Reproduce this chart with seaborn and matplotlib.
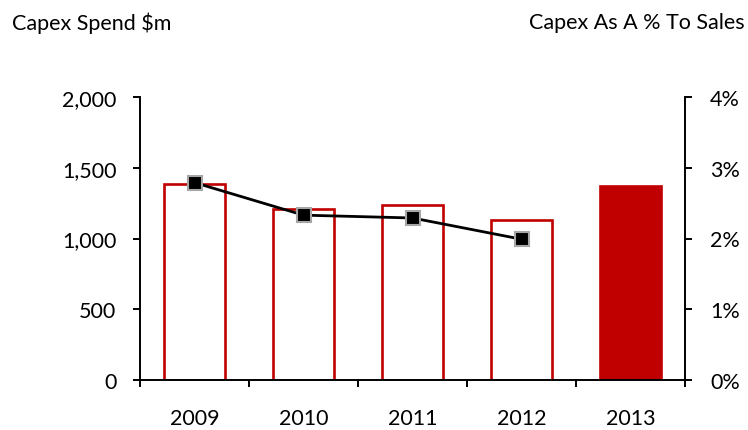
import matplotlib
matplotlib.use("Agg")
import matplotlib.pyplot as plt
import seaborn as sns
import pandas as pd
from matplotlib.ticker import FuncFormatter, FixedLocator

# Capex data
years = ["2009", "2010", "2011", "2012", "2013"]
capex_spend = [1385, 1205, 1238, 1130, 1372]
pct_years = ["2009", "2010", "2011", "2012"]
capex_pct_sales = [2.79, 2.33, 2.29, 1.99]

RED = "#C00000"

sns.set_theme(style="white")
plt.rcParams["font.family"] = ["Lato", "DejaVu Sans"]
FS = 15.5

fig = plt.figure(figsize=(7.48, 4.31), dpi=100)
ax = fig.add_axes([140 / 748, 1 - 381 / 431, 545 / 748, 283 / 431])

bars_df = pd.DataFrame({"year": years, "spend": capex_spend})
fill = {y: "white" for y in years}
fill["2013"] = RED
sns.barplot(data=bars_df, x="year", y="spend", hue="year", palette=fill,
            legend=False, width=0.56, ax=ax, edgecolor=RED, linewidth=1.9,
            saturation=1)

ax.set_ylim(0, 2000)
ax.set_xlim(-0.5, 4.5)
ax.set_yticks([0, 500, 1000, 1500, 2000])
ax.yaxis.set_major_formatter(FuncFormatter(lambda v, p: f"{v:,.0f}"))
ax.set_xlabel("")
ax.set_ylabel("")

ax2 = ax.twinx()
line_df = pd.DataFrame({"year": pct_years, "pct": capex_pct_sales})
sns.pointplot(data=line_df, x="year", y="pct", ax=ax2, color="black",
              markers="s", markersize=9.5, markeredgecolor="#A6A6A6",
              markeredgewidth=1.5, linewidth=2, errorbar=None)
ax2.set_ylim(0, 4)
ax2.set_xlim(-0.5, 4.5)
ax2.set_yticks([0, 1, 2, 3, 4])
ax2.yaxis.set_major_formatter(FuncFormatter(lambda v, p: f"{v:.0f}%"))
ax2.set_ylabel("")
ax2.set_xlabel("")

for a in (ax, ax2):
    for s in a.spines.values():
        s.set_visible(False)
    a.grid(False)
ax.spines["left"].set_visible(True)
ax.spines["bottom"].set_visible(True)
ax2.spines["right"].set_visible(True)
for s in (ax.spines["left"], ax.spines["bottom"], ax2.spines["right"]):
    s.set_color("black")
    s.set_linewidth(1.4)

ax.tick_params(axis="y", left=True, direction="out", length=5, width=1.4,
               pad=12, labelsize=FS, colors="black")
ax2.tick_params(axis="y", right=True, direction="out", length=5, width=1.4,
                pad=13, labelsize=FS, colors="black")
# category boundaries as minor ticks, labels at category centres
ax.xaxis.set_minor_locator(FixedLocator([-0.5, 0.5, 1.5, 2.5, 3.5, 4.5]))
ax.tick_params(axis="x", which="minor", bottom=True, direction="out",
               length=5, width=1.4, color="black")
ax.tick_params(axis="x", which="major", bottom=False, length=0, pad=20,
               labelsize=FS, labelcolor="black")
ax2.tick_params(axis="x", bottom=False, top=False, labelbottom=False)

fig.text(12 / 748, 1 - 23 / 431, "Capex Spend $m", ha="left", va="center",
         fontsize=FS, color="black")
fig.text(745 / 748, 1 - 23 / 431, "Capex As A % To Sales", ha="right",
         va="center", fontsize=FS, color="black")

fig.savefig("out.png", dpi=100, facecolor="white")
